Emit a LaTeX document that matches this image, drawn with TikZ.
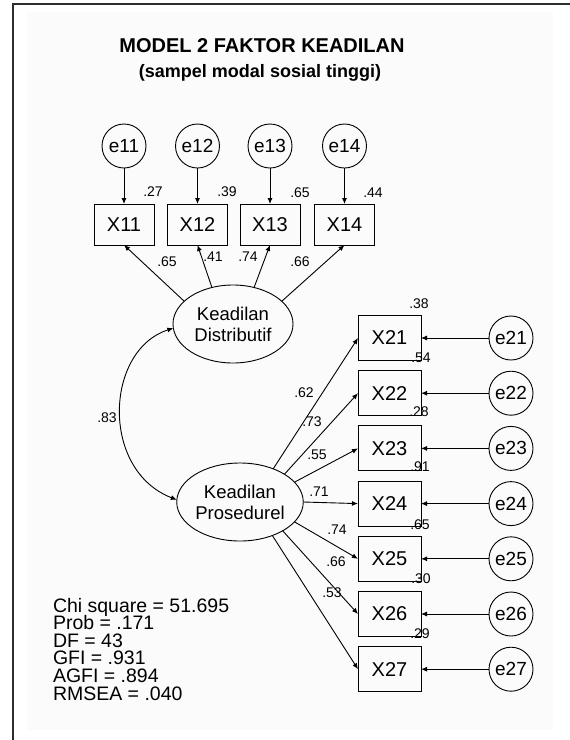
\documentclass[tikz,border=0pt]{standalone}
\usepackage{fontspec}
\setmainfont{Liberation Sans}
\usetikzlibrary{arrows.meta,shapes.geometric}
\definecolor{bgcol}{RGB}{250,251,250}
\definecolor{framecol}{RGB}{45,45,45}
\begin{document}
\begin{tikzpicture}[x=1pt,y=-1pt,
  every node/.style={inner sep=0pt, outer sep=0pt},
  obs/.style={draw, line width=0.9pt, minimum width=60pt, minimum height=41pt, font=\fontsize{20}{20}\selectfont},
  obsr/.style={obs, minimum width=63pt, minimum height=45pt},
  err/.style={draw, circle, line width=0.9pt, minimum size=44pt, font=\fontsize{19}{19}\selectfont},
  lat/.style={draw, ellipse, line width=0.9pt, minimum width=120pt, minimum height=78pt, align=center, font=\fontsize{18.5}{21}\selectfont},
  coef/.style={font=\fontsize{14}{14}\selectfont},
  stat/.style={anchor=base west, font=\fontsize{19.5}{19.5}\selectfont},
  pathc/.style={line width=0.9pt, -{Latex[length=6pt,width=5pt]}},
  cov/.style={line width=0.9pt, {Latex[length=6pt,width=5pt]}-{Latex[length=6pt,width=5pt]}},
]
\useasboundingbox (0,0) rectangle (570,740);
\fill[bgcol] (27,12) rectangle (553,730);
\draw[framecol, line width=2pt] (570,4) -- (13,4) -- (13,740);

% title
\node[font=\bfseries\fontsize{20}{20}\selectfont] (title) at (262,46) {MODEL 2 FAKTOR KEADILAN};
\node[font=\bfseries\fontsize{18}{18}\selectfont] (subtitle) at (260,73) {(sampel modal sosial tinggi)};

% top errors and indicators
\node[err] (e11) at (124,146) {e11};
\node[err] (e12) at (197.5,146) {e12};
\node[err] (e13) at (270,146) {e13};
\node[err] (e14) at (344.5,146) {e14};
\node[obs] (X11) at (124,224.5) {X11};
\node[obs] (X12) at (197.5,224.5) {X12};
\node[obs] (X13) at (270,224.5) {X13};
\node[obs] (X14) at (344.5,224.5) {X14};
\foreach \i in {11,12,13,14}{\draw[pathc] (e\i.south) -- (X\i.north);}

\node[coef] (r11) at (153,192) {.27};
\node[coef] (r12) at (227,192) {.39};
\node[coef] (r13) at (300,193) {.65};
\node[coef] (r14) at (373,193) {.44};

% latent variables
\node[lat] (D) at (233,324) {Keadilan\\Distributif};
\node[lat] (P) at (240,502) {Keadilan\\Prosedurel};

\draw[pathc] (D.155) -- (X11.south);
\draw[pathc] (D.120) -- (X12.south);
\draw[pathc] (D.60) -- (X13.south);
\draw[pathc] (D.25) -- (X14.south);
\node[coef] (l11) at (167,262) {.65};
\node[coef] (l12) at (213,257) {.41};
\node[coef] (l13) at (248,257) {.74};
\node[coef] (l14) at (300,262) {.66};

% covariance
\draw[cov] (D.184) .. controls (105,350) and (100,470) .. (P.178);
\node[coef] (c) at (107,418) {.83};

% right indicators
\foreach \i/\y in {21/338,22/393.2,23/448.4,24/503.6,25/558.8,26/614,27/669.2}{
  \node[obsr] (X\i) at (389.5,\y) {X\i};
  \node[err] (e\i) at (511,\y) {e\i};
  \draw[pathc] (e\i.west) -- (X\i.east);
}
\draw[pathc] (P.45) -- (X21.west);
\draw[pathc] (P.32) -- (X22.west);
\draw[pathc] (P.20) -- (X23.west);
\draw[pathc] (P.0) -- (X24.west);
\draw[pathc] (P.-20) -- (X25.west);
\draw[pathc] (P.-34) -- (X26.west);
\draw[pathc] (P.-46) -- (X27.west);

\node[coef] (l21) at (304,393) {.62};
\node[coef] (l22) at (312,422) {.73};
\node[coef] (l23) at (317,455) {.55};
\node[coef] (l24) at (319,492) {.71};
\node[coef] (l25) at (337,530) {.74};
\node[coef] (l26) at (336,562) {.66};
\node[coef] (l27) at (332,593) {.53};

\node[coef] (r21) at (419,304) {.38};
\node[coef] (r22) at (421,358) {.54};
\node[coef] (r23) at (419,412) {.28};
\node[coef] (r24) at (420,467) {.91};
\node[coef] (r25) at (420,525) {.65};
\node[coef] (r26) at (421,579) {.30};
\node[coef] (r27) at (420,634) {.29};

% fit statistics
\node[stat] (s1) at (53,612) {Chi square = 51.695};
\node[stat] (s2) at (53,629.6) {Prob = .171};
\node[stat] (s3) at (53,647.2) {DF = 43};
\node[stat] (s4) at (53,664.8) {GFI = .931};
\node[stat] (s5) at (53,682.4) {AGFI = .894};
\node[stat] (s6) at (53,700) {RMSEA = .040};
\end{tikzpicture}
\end{document}
